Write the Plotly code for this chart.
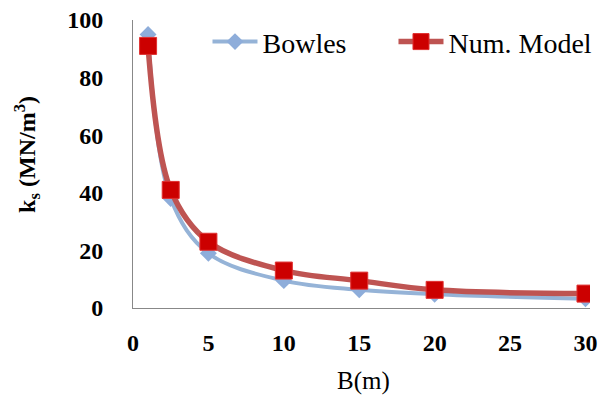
import plotly.graph_objects as go

B = [1, 2.5, 5, 10, 15, 20, 30]
bowles = [95, 38, 19, 9.5, 6.3, 4.8, 3.2]
num_model = [91, 41, 23, 13, 9.5, 6.3, 5]
x_ticks = [0, 5, 10, 15, 20, 25, 30]
y_ticks = [0, 20, 40, 60, 80, 100]

NB = "\u00a0"

fig = go.Figure()
fig.add_trace(go.Scatter(
    x=B, y=bowles, name="Bowles" + NB * 6, mode="lines+markers",
    line=dict(color="#95B3D7", width=4, shape="spline"),
    marker=dict(symbol="diamond", size=13, color="#8EADDA"),
))
fig.add_trace(go.Scatter(
    x=B, y=num_model, name="Num. Model", mode="lines+markers",
    line=dict(color="#BE5452", width=5.5, shape="spline"),
    marker=dict(symbol="square", size=17, color="#CC0000", line=dict(color="#E03030", width=1)),
))

# page body has an 8px margin: size/margins compensate for it
fig.update_layout(
    width=600, height=389,
    margin=dict(l=125, r=18, t=12, b=89, autoexpand=False),
    paper_bgcolor="white", plot_bgcolor="white",
    font=dict(family="Liberation Serif", color="black"),
    showlegend=True,
    legend=dict(orientation="h", x=0.163, y=0.924, xanchor="left", yanchor="middle",
                font=dict(size=28, family="Liberation Serif"), bgcolor="rgba(0,0,0,0)",
                itemwidth=45, tracegroupgap=0),
    xaxis=dict(range=[0, 30.3], tickvals=x_ticks, showgrid=False, zeroline=False,
               showline=True, linecolor="#888888", linewidth=1, ticks="",
               automargin=False, ticklabelstandoff=13, ticklabeloverflow="allow",
               tickfont=dict(size=24, family="Liberation Serif", weight="bold")),
    yaxis=dict(range=[0, 100], tickvals=y_ticks, showgrid=False, zeroline=False,
               showline=True, linecolor="#888888", linewidth=1, ticks="",
               automargin=False, ticklabelstandoff=24, ticklabeloverflow="allow",
               tickfont=dict(size=24, family="Liberation Serif", weight="bold")),
    annotations=[
        dict(text="B(m)", xref="paper", yref="paper", x=0.505, y=-0.254,
             xanchor="center", yanchor="middle", showarrow=False,
             font=dict(size=25, family="Liberation Serif")),
        dict(text="k<sub>s</sub> (MN/m<sup>3</sup>)", xref="paper", yref="paper",
             x=-0.232, y=0.535, xanchor="center", yanchor="middle", textangle=-90,
             showarrow=False, font=dict(size=24, family="Liberation Serif", weight="bold")),
    ],
)

fig.write_html("out.html")
